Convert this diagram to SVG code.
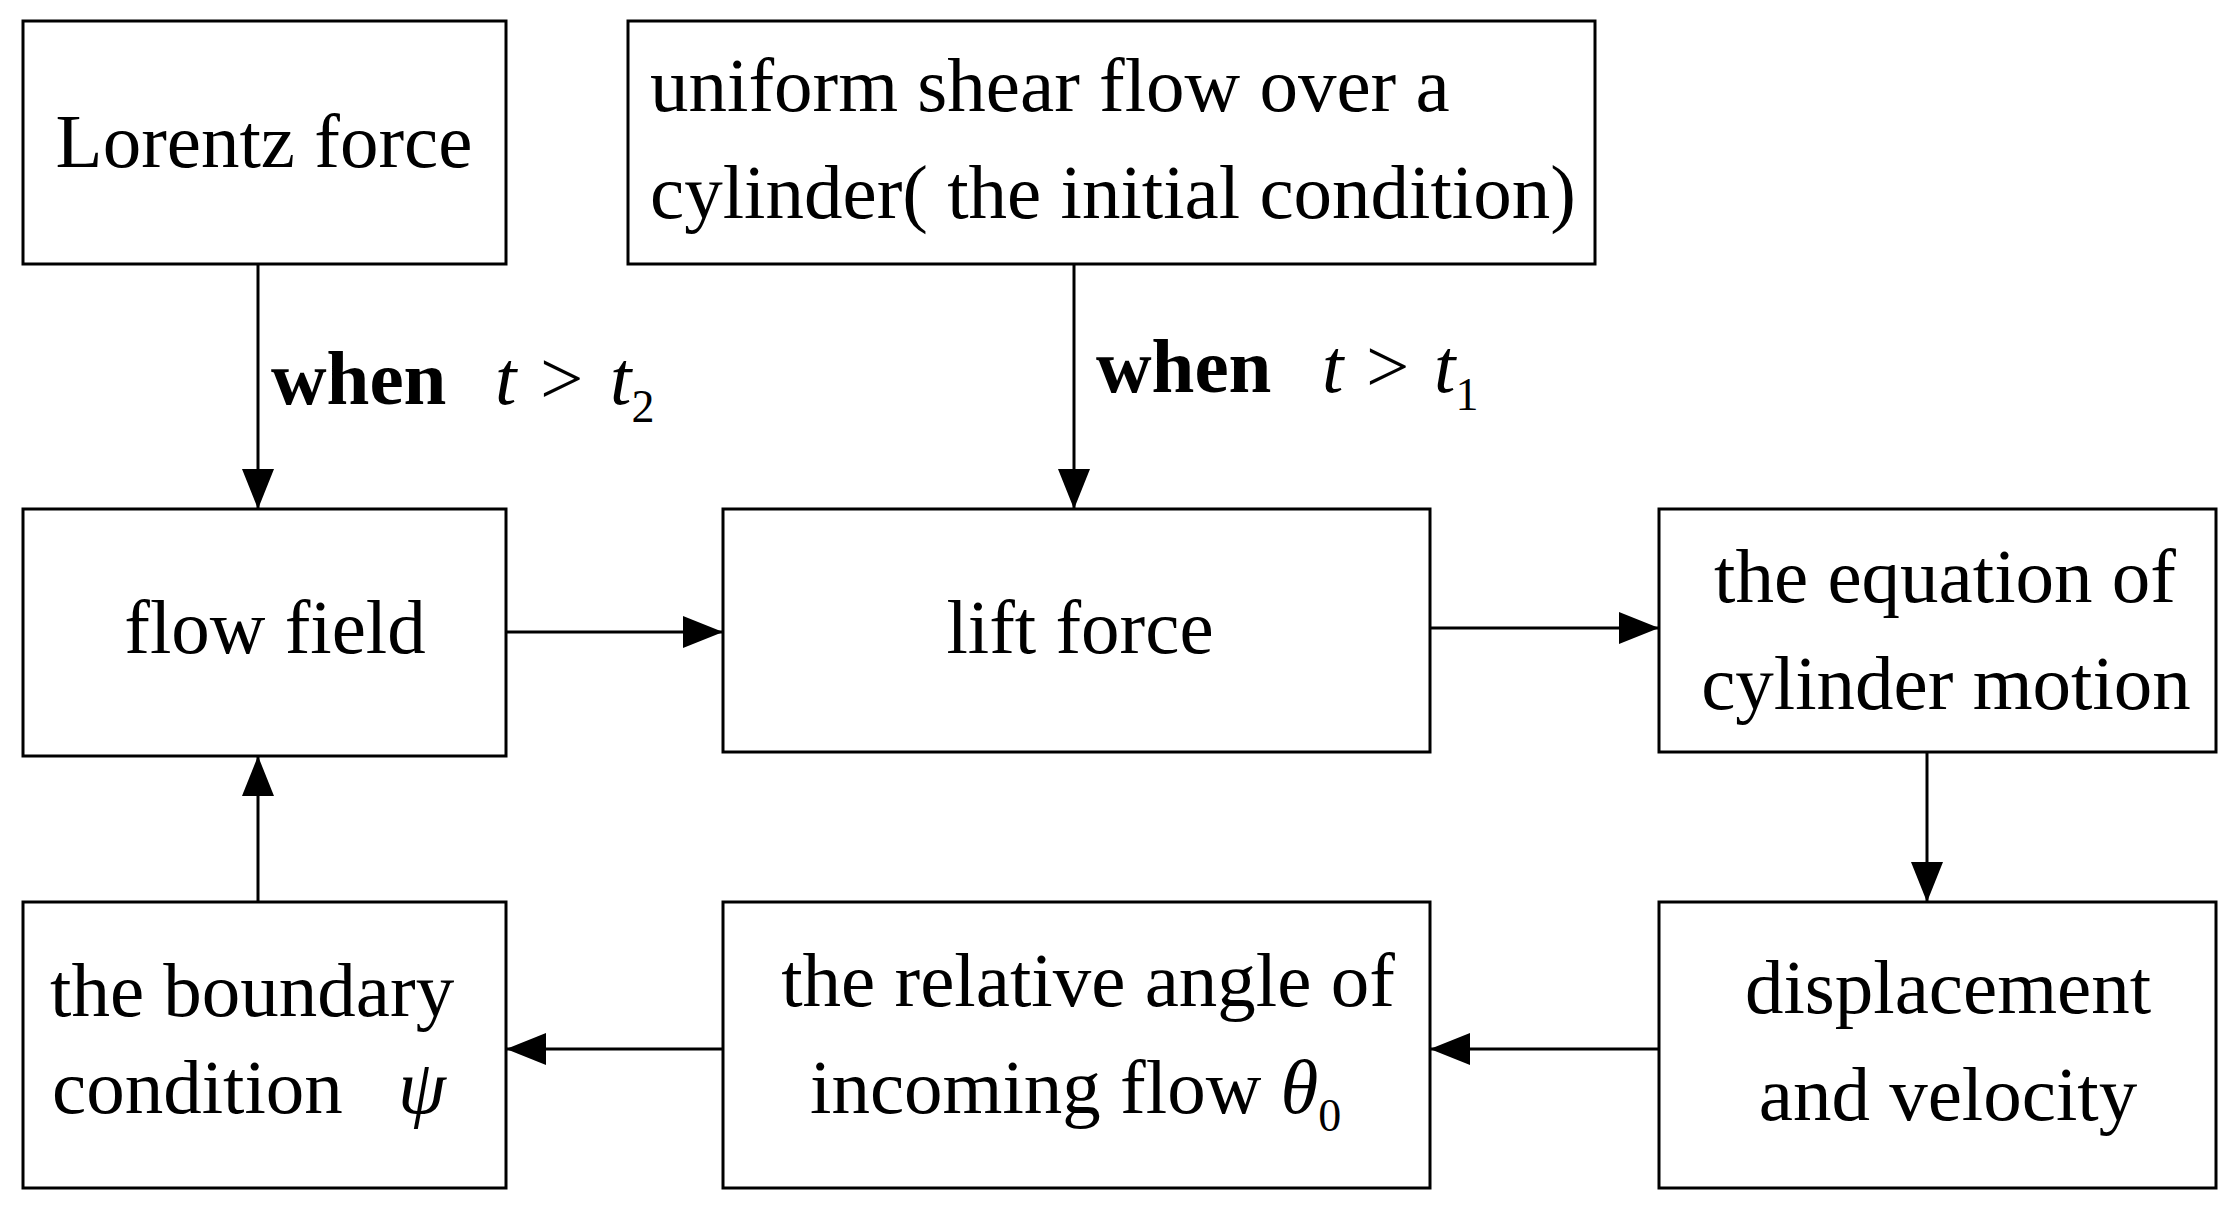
<svg xmlns="http://www.w3.org/2000/svg" width="2237" height="1215" viewBox="0 0 2237 1215">
<defs>
<style>
.b{fill:#fff;stroke:#000;stroke-width:3}
.t{font-family:"Liberation Serif","Times New Roman",serif;font-size:77px;fill:#000}
.c{text-anchor:middle}
.l{stroke:#000;stroke-width:3;fill:none}
.w{font-weight:bold}
.i{font-style:italic}
</style>
<marker id="h" viewBox="0 0 10 10" refX="10" refY="5" markerWidth="40" markerHeight="40" markerUnits="userSpaceOnUse" orient="auto"><path d="M0,1L10,5L0,9z" fill="#000"/></marker>
</defs>
<rect width="2237" height="1215" fill="#fff"/>
<g id="lorentz"><rect class="b" x="23" y="21" width="483" height="243"/><text class="t c" x="264" y="167">Lorentz force</text></g>
<g id="shear"><rect class="b" x="628" y="21" width="967" height="243"/><text class="t" x="650" y="111">uniform shear flow over a</text><text class="t" x="650" y="218">cylinder( the initial  condition)</text></g>
<g id="flow"><rect class="b" x="23" y="509" width="483" height="247"/><text class="t c" x="275" y="653">flow field</text></g>
<g id="lift"><rect class="b" x="723" y="509" width="707" height="243"/><text class="t c" x="1080" y="653">lift force</text></g>
<g id="equation"><rect class="b" x="1659" y="509" width="557" height="243"/><text class="t c" x="1945" y="602">the equation of</text><text class="t c" x="1946" y="709">cylinder motion</text></g>
<g id="boundary"><rect class="b" x="23" y="902" width="483" height="286"/><text class="t" x="50" y="1016">the boundary</text><text class="t" x="52" y="1113">condition <tspan class="i" x="398">ψ</tspan></text></g>
<g id="angle"><rect class="b" x="723" y="902" width="707" height="286"/><text class="t c" x="1088" y="1006">the relative angle of</text><text class="t" x="810" y="1113">incoming flow <tspan class="i">θ</tspan><tspan font-size="46" dy="18">0</tspan></text></g>
<g id="disp"><rect class="b" x="1659" y="902" width="557" height="286"/><text class="t c" x="1948" y="1013">displacement</text><text class="t c" x="1948" y="1120">and velocity</text></g>
<g id="connectors">
<line class="l" x1="258" y1="264" x2="258" y2="509" marker-end="url(#h)"/>
<line class="l" x1="1074" y1="264" x2="1074" y2="509" marker-end="url(#h)"/>
<line class="l" x1="506" y1="632" x2="723" y2="632" marker-end="url(#h)"/>
<line class="l" x1="1430" y1="628" x2="1659" y2="628" marker-end="url(#h)"/>
<line class="l" x1="1927" y1="752" x2="1927" y2="902" marker-end="url(#h)"/>
<line class="l" x1="1659" y1="1049" x2="1430" y2="1049" marker-end="url(#h)"/>
<line class="l" x1="723" y1="1049" x2="506" y2="1049" marker-end="url(#h)"/>
<line class="l" x1="258" y1="902" x2="258" y2="756" marker-end="url(#h)"/>
<text class="t" x="271" y="404"><tspan class="w">when</tspan><tspan class="i" x="495">t</tspan><tspan x="540">&gt;</tspan><tspan class="i" x="610">t</tspan><tspan font-size="46" dy="18">2</tspan></text>
<text class="t" x="1096" y="392"><tspan class="w">when</tspan><tspan class="i" x="1322">t</tspan><tspan x="1366">&gt;</tspan><tspan class="i" x="1434">t</tspan><tspan font-size="46" dy="18">1</tspan></text>
</g>
</svg>
